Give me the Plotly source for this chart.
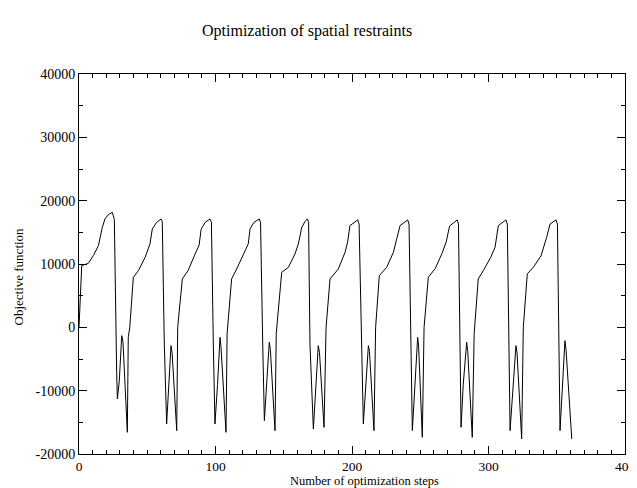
import plotly.graph_objects as go

# Optimization steps (x) and objective function values (y)
steps = [
    0, 2.0, 6.8, 10.5, 14.2, 17.1, 19.0, 21.5, 24.4, 25.9, 27.6, 28.1, 29.5, 31.3, 32.2, 35.4, 36.1, 37.2,
    39.8, 43.5, 48.4, 52.0, 53.7, 56.9, 60.1,
    61.0, 62.5, 64.2, 67.4, 68.2, 71.6, 72.3, 75.7, 80.0, 84.5, 88.0, 89.5, 92.5, 96.0,
    97.0, 98.4, 99.6, 101.5, 103.3, 104.0, 107.7, 108.5, 111.8, 115.5, 120.4, 124.0, 125.3, 128.2, 132.1,
    133.0, 134.6, 135.8, 139.4, 140.2, 143.6, 144.5, 148.5, 153.4, 158.2, 160.7, 163.1, 165.5, 167.3,
    168.2, 169.2, 171.7, 175.3, 176.2, 179.5, 181.0, 183.9, 190.0, 194.9, 196.8, 198.5, 204.2,
    205.2, 207.1, 208.3, 212.0, 212.8, 216.1, 217.3, 220.0, 225.4, 230.3, 232.5, 235.2, 240.8,
    241.8, 243.2, 244.2, 248.1, 248.8, 251.5, 252.8, 255.9, 261.0, 266.0, 269.0, 271.5, 277.1,
    278.0, 279.9, 281.5, 284.0, 284.8, 288.1, 289.5, 292.5, 296.2, 301.5, 304.8, 307.2, 312.8,
    313.8, 315.8, 320.1, 320.9, 324.3, 325.5, 328.4, 332.8, 338.5, 342.6, 345.1, 349.5,
    350.5, 352.4, 356.0, 356.8, 361.0,
]
objective = [
    0, 9740, 10100, 11320, 12900, 15790, 17110, 17800, 18160, 17030, -7100, -11310, -8500, -1310, -2200, -16580, -1580, 0,
    7900, 8950, 11050, 13170, 15530, 16580, 17110,
    16700, -2630, -15260, -2890, -4000, -16310, 0, 7640, 9000, 11300, 13000, 15500, 16600, 17110,
    16600, -2630, -15260, -9000, -1580, -3000, -16580, -1000, 7640, 9220, 11590, 13170, 15530, 16580, 17110,
    16500, -2630, -14730, -2360, -3500, -16310, -1000, 8690, 9470, 11590, 13170, 15700, 16700, 17110,
    16600, -2630, -16050, -2890, -4000, -15790, 0, 7640, 9220, 11840, 13500, 16060, 16960,
    16300, -6840, -15260, -2890, -3800, -16310, 0, 8160, 9470, 11840, 13800, 16060, 16960,
    16300, -3100, -16310, -1580, -3000, -17370, 0, 7900, 9300, 11700, 13500, 16000, 16960,
    16300, -15790, -9000, -2360, -3800, -17370, -1000, 7640, 8950, 11000, 12640, 16060, 16960,
    16300, -16310, -2890, -4000, -17630, 0, 8430, 9470, 11300, 14210, 16320, 16960,
    16300, -16310, -2100, -3500, -17630,
]

x_tick_vals = [0, 100, 200, 300, 400]
x_tick_text = ["0", "100", "200", "300", "400"]
y_tick_vals = [-20000, -10000, 0, 10000, 20000, 30000, 40000]
y_tick_text = ["-20000", "-10000", "0", "10000", "20000", "30000", "40000"]

FONT = "Liberation Serif, Times New Roman, serif"

fig = go.Figure()
fig.add_trace(go.Scatter(x=steps, y=objective, mode="lines",
                         line=dict(color="black", width=1), showlegend=False,
                         hoverinfo="skip"))

axis_common = dict(
    showgrid=False, zeroline=False, showline=True, linecolor="black", linewidth=1,
    mirror="ticks", ticks="inside", ticklen=8, tickwidth=1, tickcolor="black",
    automargin=False,
)

fig.update_xaxes(range=[0, 400], tickvals=x_tick_vals, ticktext=x_tick_text,
                 tickfont=dict(family=FONT, size=13.5, color="black"),
                 minor=dict(dtick=10, ticks="inside", ticklen=4, tickcolor="black", tickwidth=1),
                 **axis_common)
fig.update_yaxes(range=[-20000, 40000], tickvals=y_tick_vals, ticktext=y_tick_text,
                 tickfont=dict(family=FONT, size=14, color="black"),
                 minor=dict(dtick=5000, ticks="inside", ticklen=4, tickcolor="black", tickwidth=1),
                 **axis_common)

# The page body adds an 8px offset; plot area targets screen x 79..625, y 74..454
fig.update_layout(
    width=629, height=480,
    margin=dict(l=71, r=12, t=66, b=34),
    paper_bgcolor="white", plot_bgcolor="white",
    font=dict(family=FONT, color="black"),
    annotations=[
        dict(text="Optimization of spatial restraints", xref="paper", yref="paper",
             x=(307 - 79) / 546, y=(454 - 31) / 380, yanchor="middle", xanchor="center",
             showarrow=False, font=dict(family=FONT, size=16, color="black")),
        dict(text="Objective function", xref="paper", yref="paper",
             x=(17.5 - 79) / 546, y=(454 - 277) / 380, textangle=-90,
             xanchor="center", yanchor="middle", showarrow=False,
             font=dict(family=FONT, size=13, color="black")),
        dict(text="Number of optimization steps", xref="paper", yref="paper",
             x=(364 - 79) / 546, y=(454 - 481) / 380, xanchor="center", yanchor="middle",
             showarrow=False, font=dict(family=FONT, size=12.5, color="black")),
    ],
)

fig.write_html("out.html")
